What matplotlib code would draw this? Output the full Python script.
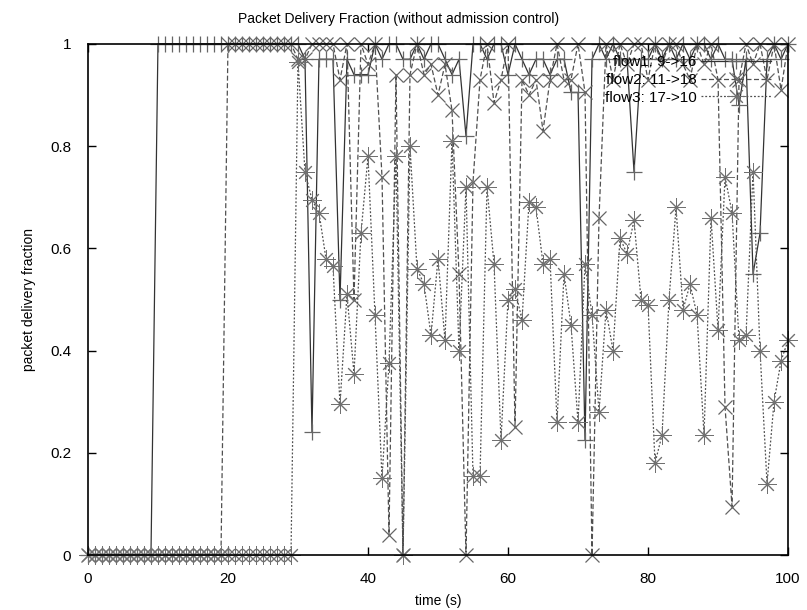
import matplotlib
matplotlib.use("Agg")
import matplotlib.pyplot as plt

plt.rcParams['font.family'] = ['Liberation Sans', 'DejaVu Sans']

# time axis (s)
t = list(range(0, 101))

# flow1: 9->16
flow1 = [0, 0, 0, 0, 0, 0, 0, 0, 0, 0,
         1, 1, 1, 1, 1, 1, 1, 1, 1, 1,
         1, 1, 1, 1, 1, 1, 1, 1, 1, 1,
         1, 0.97, 0.24, 0.97, 0.97, 0.97, 0.50, 0.97, 0.94, 0.94,
         0.94, 1, 0.97, 1, 1, 0.97, 0.97, 1, 0.97, 1,
         1, 0.97, 0.94, 0.97, 0.82, 1, 1, 0.97, 1, 1,
         0.94, 1, 0.97, 0.94, 0.97, 0.97, 0.94, 0.97, 0.97, 0.905,
         0.905, 0.225, 0.97, 1, 0.97, 1, 0.97, 0.97, 0.75, 0.97,
         0.97, 1, 0.97, 1, 0.97, 1, 0.97, 1, 1, 0.97,
         1, 0.97, 0.97, 0.88, 0.97, 0.55, 0.63, 0.97, 1, 0.97,
         1]

# flow2: 11->18
flow2 = [0, 0, 0, 0, 0, 0, 0, 0, 0, 0,
         0, 0, 0, 0, 0, 0, 0, 0, 0, 0,
         1, 1, 1, 1, 1, 1, 1, 1, 1, 1,
         0.97, 0.97, 1, 1, 1, 1, 0.93, 1, 0.50, 1,
         0.96, 1, 0.74, 0.04, 0.94, 0, 0.94, 1, 0.94, 0.96,
         0.90, 0.96, 0.87, 0.55, 0, 0.73, 0.93, 1, 0.885, 0.93,
         1, 0.25, 0.93, 0.90, 0.93, 0.83, 0.93, 1, 0.93, 0.93,
         1, 0.905, 0, 0.66, 1, 0.93, 1, 0.96, 1, 1,
         0.93, 1, 0.96, 1, 1, 0.96, 0.93, 1, 0.96, 1,
         0.93, 0.29, 0.095, 0.93, 1, 0.96, 1, 0.93, 1, 0.91,
         1]

# flow3: 17->10
flow3 = [0, 0, 0, 0, 0, 0, 0, 0, 0, 0,
         0, 0, 0, 0, 0, 0, 0, 0, 0, 0,
         0, 0, 0, 0, 0, 0, 0, 0, 0, 0,
         0.965, 0.75, 0.695, 0.67, 0.58, 0.565, 0.295, 0.51, 0.355, 0.63,
         0.78, 0.47, 0.15, 0.375, 0.78, 0, 0.80, 0.56, 0.53, 0.43,
         0.58, 0.42, 0.81, 0.40, 0.72, 0.155, 0.155, 0.72, 0.57, 0.225,
         0.50, 0.52, 0.46, 0.69, 0.68, 0.57, 0.58, 0.26, 0.55, 0.45,
         0.26, 0.57, 0.47, 0.28, 0.48, 0.40, 0.62, 0.59, 0.655, 0.50,
         0.49, 0.18, 0.235, 0.50, 0.68, 0.48, 0.53, 0.47, 0.235, 0.66,
         0.44, 0.74, 0.67, 0.42, 0.43, 0.75, 0.40, 0.14, 0.30, 0.38,
         0.42]

labels = ['flow1: 9->16', 'flow2: 11->18', 'flow3: 17->10']

fig = plt.figure(figsize=(8.07, 6.10), dpi=100)
ax = fig.add_axes([0.109, 0.090, 0.8675, 0.838])

ax.plot(t, flow1, color='#333333', lw=0.9, ls='-', marker='+', ms=11,
        mew=0.9, mec='#666666', label=labels[0], clip_on=False)
ax.plot(t, flow2, color='#505050', lw=0.9, ls=(0, (4, 2)), marker='x', ms=10,
        mew=0.9, mec='#666666', label=labels[1], clip_on=False)
ax.plot(t, flow3, color='#505050', lw=0.9, ls=(0, (1.5, 1.5)), marker=(8, 2, 0),
        ms=13, mew=0.7, mec='#707070', label=labels[2], clip_on=False)

ax.set_xlim(0, 100)
ax.set_ylim(0, 1)
ax.set_xticks([0, 20, 40, 60, 80, 100])
ax.set_yticks([0, 0.2, 0.4, 0.6, 0.8, 1])
ax.set_yticklabels(['0', '0.2', '0.4', '0.6', '0.8', '1'])
ax.tick_params(direction='in', top=True, right=True, length=6, width=1,
               labelsize=11)
ax.tick_params(axis='x', pad=12)
ax.tick_params(axis='y', pad=12)
for s in ax.spines.values():
    s.set_linewidth(1.2)

ax.set_title('Packet Delivery Fraction (without admission control)', fontsize=10,
             pad=15, x=0.443)
ax.set_xlabel('time (s)', fontsize=10, labelpad=6)
ax.set_ylabel('packet delivery fraction', fontsize=10, labelpad=10)

ax.legend(loc='upper right', bbox_to_anchor=(0.985, 0.99), markerfirst=False,
          frameon=False, fontsize=11, handlelength=4.6, handletextpad=0.3,
          labelspacing=0.25, borderaxespad=0)

fig.savefig('out.png', dpi=100)
